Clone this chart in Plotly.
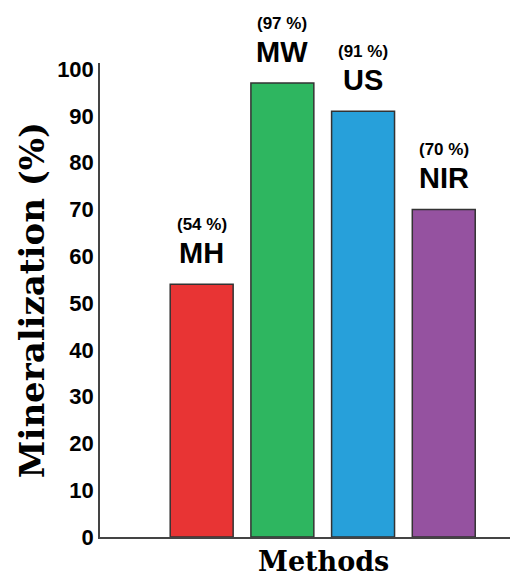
import plotly.graph_objects as go

methods = ["MH", "MW", "US", "NIR"]
mineralization = [54, 97, 91, 70]
pct_labels = ["(54 %)", "(97 %)", "(91 %)", "(70 %)"]
bar_colors = ["#E83434", "#2EB660", "#27A0DA", "#9552A0"]
y_ticks = [0, 10, 20, 30, 40, 50, 60, 70, 80, 90, 100]

sans = "Liberation Sans, Arial"
serif = "DejaVu Serif"

fig = go.Figure()
fig.add_trace(go.Bar(
    x=methods, y=mineralization, width=0.78,
    marker=dict(color=bar_colors, line=dict(color="#333333", width=1.5)),
    showlegend=False, hoverinfo="skip",
))

for m, v, p in zip(methods, mineralization, pct_labels):
    fig.add_annotation(x=m, y=v, text=m, showarrow=False,
                       yanchor="middle", yshift=31,
                       font=dict(family=sans, size=29, color="black", weight="bold"))
    fig.add_annotation(x=m, y=v, text=p, showarrow=False,
                       yanchor="middle", yshift=60,
                       font=dict(family=sans, size=17, color="black", weight="bold"))

fig.add_annotation(x=0.535, y=-0.052, xref="paper", yref="paper",
                   text="Methods", showarrow=False, yanchor="middle",
                   font=dict(family=serif, size=27, color="black", weight="bold"))

fig.update_layout(
    width=510, height=571,
    margin=dict(l=92, r=0, t=55, b=42),
    plot_bgcolor="white", paper_bgcolor="white",
    xaxis=dict(range=[-1.26, 3.92], showticklabels=False, ticks="",
               showline=True, linecolor="#444444", linewidth=1.5,
               showgrid=False, zeroline=False),
    yaxis=dict(range=[0, 101.3], tickvals=y_ticks, ticks="",
               showline=True, linecolor="#444444", linewidth=1.5,
               showgrid=False, zeroline=False,
               tickfont=dict(family=sans, size=22, color="black", weight="bold"),
               title=dict(text="Mineralization (%)", standoff=2,
                          font=dict(family=serif, size=34, color="black", weight="bold"))),
)

fig.write_html("out.html")
